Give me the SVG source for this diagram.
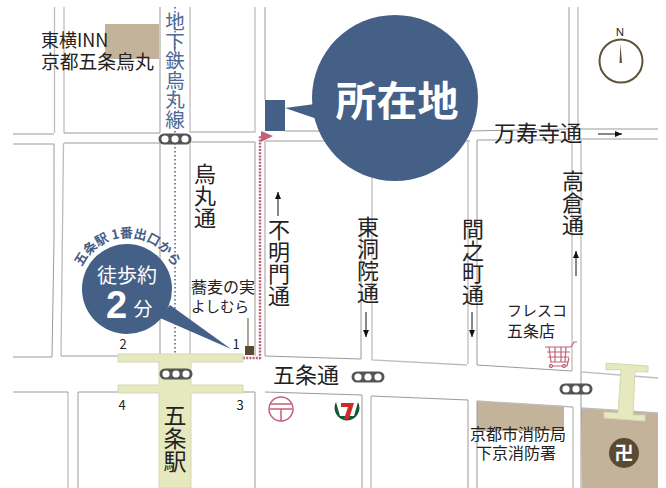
<svg xmlns="http://www.w3.org/2000/svg" width="666" height="488" viewBox="0 0 666 488">
<style>
text{font-family:"Noto Sans CJK JP","Noto Sans",sans-serif;fill:#222}
.v{writing-mode:vertical-rl;text-orientation:upright;letter-spacing:0}
.rd{fill:none;stroke-width:1}
.d{stroke:#9a9a9a}.l{stroke:#bdbdbd;stroke-width:1.3}
.sig{fill:#555}.sigc{fill:#fff}
.st{fill:#e6e8bd;stroke:#d6d7b4}
.ar{stroke:#111;stroke-width:1;fill:none}
</style>
<defs>
<marker id="ah" markerWidth="8" markerHeight="8" refX="7" refY="3" orient="auto"><path d="M0 0L7 3L0 6z" fill="#111"/></marker>
<g id="sg"><rect x="-16.500" y="-5.500" width="33" height="11" rx="5.500" class="sig"/><circle cx="-10" r="3.600" class="sigc"/><circle r="3.600" class="sigc"/><circle cx="10" r="3.600" class="sigc"/></g>
</defs>
<rect width="666" height="488" fill="#fff"/>
<g id="fills">
<rect x="105" y="24" width="54" height="35" fill="#c3b39b"/>
<path d="M477 401L564 406V431H477z" fill="#c3b39b"/>
<path d="M581 408L658 413V488H582z" fill="#c3b39b"/>
</g>
<g id="roads" class="rd">
<path class="l" d="M54.500 7V133M13 144H54M52 357H13"/>
<path class="l" d="M64 7V133M63.500 143L61 356M68 392V488"/>
<path class="d" d="M13 134H54M54 144V240L52 357M13 392H68"/>
<path class="d" d="M64 133H160V7M64 143H160V356M61 356H118M78 392V488M78 392H118"/>
<path class="l" d="M190 7V132H255V7M190 142V356M190 392V488"/>
<path class="d" d="M190 142H255V356M243 392H255V488"/>
<path class="d" d="M265 7V100M265 141V356L361 359V220M265 392L362 395V488"/>
<path class="l" d="M265 141H470M372 140V360L467 365M371 396V488"/>
<path class="d" d="M285 131H470L569 129V7M371 396L468 400V488"/>
<path class="l" d="M468 140V364M477 140H572V371M477 401L573 407M573 407V488"/>
<path class="d" d="M477 140V365L572 371M477 401V488M581 372V488"/>
<path class="l" d="M578 7V129H658M580 139H658M581 139V372L658 378M581 408L658 413"/>
</g>
<g id="connectors">
<path d="M175 7V353" fill="none" stroke="#4a6087" stroke-width="1.500" stroke-dasharray="1.500 2.500"/>
<path d="M243 358H260V135" fill="none" stroke="#c4607a" stroke-width="2.500" stroke-dasharray="2 1.200"/>
<path d="M261 131L273 136L261 142z" fill="#c4607a"/>
<path class="ar" d="M278 216V192" marker-end="url(#ah)"/>
<path class="ar" d="M366 312V337" marker-end="url(#ah)"/>
<path class="ar" d="M472 312V337" marker-end="url(#ah)"/>
<path class="ar" d="M576 276V251" marker-end="url(#ah)"/>
<path class="ar" d="M598 134H622" marker-end="url(#ah)"/>
<path d="M248 318V350" stroke="#5a4a32" fill="none"/>
</g>
<g id="station">
<path class="st" d="M118 354H243V362H191V385H243V393H191V488H159V393H118V385H159V362H118z"/>
<text class="v" x="175" y="404" font-size="23">五条駅</text>
<text x="123" y="349" font-size="13" text-anchor="middle">2</text>
<text x="236" y="349" font-size="13" text-anchor="middle">1</text>
<text x="122" y="410" font-size="13" text-anchor="middle">4</text>
<text x="240" y="410" font-size="13" text-anchor="middle">3</text>
</g>
<use href="#sg" x="175" y="139"/><use href="#sg" x="176" y="374"/><use href="#sg" x="368" y="377"/><use href="#sg" x="576" y="389"/>
<g id="hotel"><text x="41" y="47" font-size="18">東横INN</text><text x="41" y="69" font-size="18.800">京都五条烏丸</text></g>
<text class="v" x="175" y="12" font-size="19.500" style="fill:#4f6a94">地下鉄烏丸線</text>
<text class="v" x="205" y="163" font-size="22">烏丸通</text>
<text class="v" x="279" y="219" font-size="22">不明門通</text>
<text class="v" x="368" y="216" font-size="22">東洞院通</text>
<text class="v" x="473" y="218" font-size="22">間之町通</text>
<text class="v" x="573" y="170" font-size="22">高倉通</text>
<text x="494" y="141" font-size="22">万寿寺通</text>
<text x="273" y="383" font-size="22">五条通</text>
<g id="target">
<rect x="265" y="100" width="20" height="31" fill="#456087"/>
<circle cx="395" cy="98" r="83" fill="#456087"/>
<path d="M285 108L330 102L320 120z" fill="#456087"/>
<text x="397" y="116" font-size="41" font-weight="700" text-anchor="middle" style="fill:#fff">所在地</text>
</g>
<g id="walk">
<path d="M170 305L231 349L160 318z" fill="#456087"/>
<circle cx="127" cy="289" r="45" fill="#456087"/>
<path id="arc" d="M82 267A50 50 0 0 1 177 280" fill="none"/>
<text font-size="13" font-weight="700" style="fill:#456087"><textPath href="#arc">五条駅 1番出口から</textPath></text>
<text x="127" y="283" font-size="20" text-anchor="middle" style="fill:#fff">徒歩約</text>
<text x="116.500" y="318" font-size="38" font-weight="700" style="fill:#fff;font-family:'Liberation Sans'" text-anchor="middle">2</text>
<text x="143" y="316" font-size="19" text-anchor="middle" style="fill:#fff">分</text>
</g>
<g id="soba"><text x="191" y="293" font-size="16">蕎麦の実</text><text x="191" y="312" font-size="14.500">よしむら</text><rect x="245" y="346" width="9" height="9" fill="#5a4a32"/></g>
<g id="compass"><text x="620" y="36" font-size="11" text-anchor="middle" style="font-family:'Noto Sans'">N</text><circle cx="621" cy="61" r="21.500" fill="none" stroke="#5f5238" stroke-width="2"/><path d="M619.500 63L620.500 44L622 63z" fill="#5f5238"/></g>
<g id="fresco"><text x="507" y="316" font-size="15">フレスコ</text><text x="507" y="337" font-size="16">五条店</text>
<g fill="none" stroke="#c4607a"><path d="M545 347H571M547 352H570M548 357H569M550 362H568M549 347L551 362M555 347V362M561 347V362M566 347L565 362M571 347L574 342H577M569 358L567 366H549" stroke-width="1.200"/><circle cx="551" cy="366" r="1.700"/><circle cx="564" cy="366" r="1.700"/></g></g>
<g id="post"><circle cx="281" cy="409" r="12" fill="none" stroke="#c4607a" stroke-width="1.500"/><path d="M270 404H292M270 409H292M281 409V421" stroke="#c4607a" stroke-width="1.500"/></g>
<g id="seven"><path d="M336 402A12.500 12.500 0 1 0 358 402L354 416H340z" fill="#0f5a38"/><path d="M341 403H354L349 419H344L348 407H341z" fill="#cf2a2a"/></g>
<g id="fire"><text x="470" y="440" font-size="16">京都市消防局</text><text x="476" y="459" font-size="16">下京消防署</text></g>
<g id="temple"><path class="st" d="M606 363L648 366V372L635 371.500L633 415L645 415V421L604 418V412L618 413L621 369.500L606 370z"/><circle cx="624" cy="453" r="15" fill="#5a4a32"/><text x="624" y="460" font-size="19" font-weight="700" text-anchor="middle" style="fill:#fff">卍</text></g>
</svg>
